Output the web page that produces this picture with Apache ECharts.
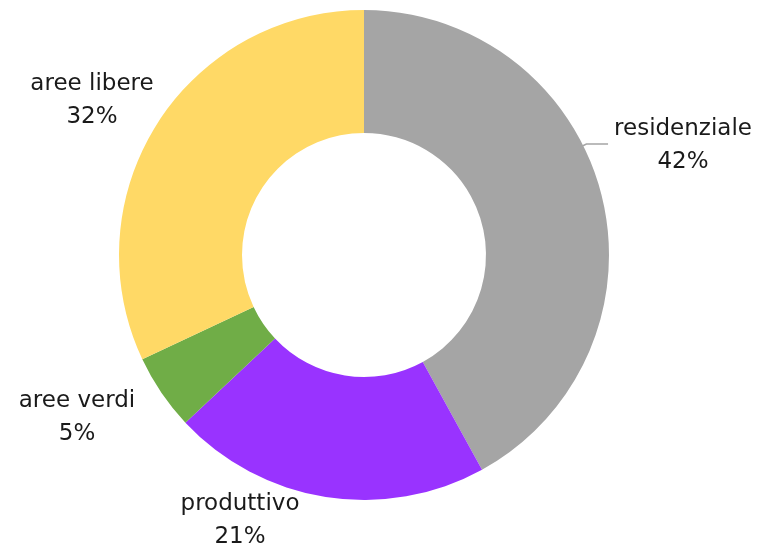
<!DOCTYPE html>
<html>
<head>
<meta charset="utf-8">
<script src="https://cdn.jsdelivr.net/npm/echarts@6/dist/echarts.min.js"></script>
<style>
  html, body { margin: 0; padding: 0; background: #fff; }
  #chart { width: 761px; height: 550px; }
</style>
</head>
<body>
<div id="chart"></div>
<script>
const categories = ["residenziale", "produttivo", "aree verdi", "aree libere"];
const values = [42, 21, 5, 32];
const colors = ["#A5A5A5", "#9933FF", "#70AD47", "#FFD966"];
// label text centres (px) for each slice
const labelPos = [[683, 146], [240, 521], [77, 418], [92, 101]];

const cx = 364, cy = 255, outerR = 245;

let myEcharts = echarts.init(document.getElementById("chart"));
let option = {
  animation: false,
  series: [
    {
      type: "pie",
      center: [cx, cy],
      radius: [122, outerR],
      startAngle: 90,
      clockwise: true,
      label: {
        show: true,
        position: "outside",
        formatter: "{b}\n{c}%",
        fontFamily: "DejaVu Sans",
        fontSize: 23,
        lineHeight: 33,
        color: "#1a1a1a",
        align: "center",
        overflow: "none"
      },
      labelLine: { show: false },
      labelLayout: function (params) {
        let p = labelPos[params.dataIndex];
        let res = { x: p[0], y: p[1], align: "center", verticalAlign: "middle" };
        if (params.dataIndex === 0) {
          // short horizontal leader from ring edge to the label
          let yy = p[1] - 2;
          let xe = cx + Math.sqrt(outerR * outerR - (yy - cy) * (yy - cy));
          res.labelLinePoints = [[xe, yy + 2], [xe + 4, yy], [p[0] - params.labelRect.width / 2 - 6, yy]];
        }
        return res;
      },
      data: []
    }
  ]
};
for (let i = 0; i < categories.length; i++) {
  let obj = {
    name: categories[i],
    value: values[i],
    itemStyle: { color: colors[i] }
  };
  if (i === 0) {
    obj.labelLine = { show: true, lineStyle: { color: "#A5A5A5", width: 1.5 } };
  }
  option.series[0].data.push(obj);
}
myEcharts.setOption(option);
</script>
</body>
</html>
